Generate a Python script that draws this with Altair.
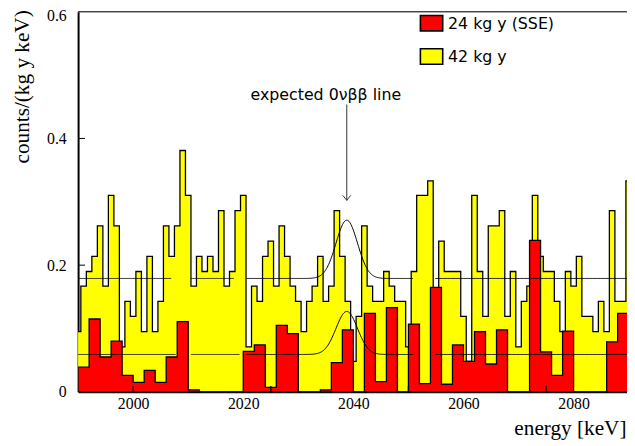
import altair as alt
import pandas as pd
import numpy as np

# ---------------- data ----------------
# 42 kg y spectrum: 1 keV bins centred on integer energies, counts/(kg y keV)
yellow_center = list(range(1990, 2091))
yellow_rate = [
    0.095, 0.167, 0.190, 0.214, 0.262, 0.167, 0.310, 0.262, 0.071, 0.143,  # 1990-1999
    0.119, 0.190, 0.095, 0.214, 0.095, 0.143, 0.262, 0.214, 0.262, 0.381,  # 2000-2009
    0.310, 0.167, 0.214, 0.190, 0.214, 0.190, 0.286, 0.167, 0.190, 0.286,  # 2010-2019
    0.310, 0.071, 0.167, 0.143, 0.214, 0.238, 0.167, 0.262, 0.214, 0.167,  # 2020-2029
    0.143, 0.095, 0.143, 0.167, 0.214, 0.143, 0.167, 0.286, 0.214, 0.143,  # 2030-2039
    0.048, 0.119, 0.262, 0.167, 0.143, 0.143, 0.190, 0.167, 0.143, 0.143,  # 2040-2049
    0.071, 0.190, 0.310, 0.310, 0.333, 0.143, 0.238, 0.190, 0.190, 0.190,  # 2050-2059
    0.119, 0.048, 0.310, 0.190, 0.119, 0.262, 0.262, 0.286, 0.119, 0.190,  # 2060-2069
    0.071, 0.143, 0.167, 0.310, 0.214, 0.190, 0.190, 0.143, 0.095, 0.190,  # 2070-2079
    0.167, 0.214, 0.119, 0.119, 0.095, 0.143, 0.095, 0.286, 0.143, 0.143,  # 2080-2089
    0.333,                                                                 # 2090
]

# 24 kg y (SSE) spectrum: 2 keV bins, lower edges
red_low_edge = list(range(1990, 2090, 2))
red_rate = [
    0.039, 0.115, 0.055, 0.080, 0.026, 0.015, 0.034, 0.015, 0.055, 0.111,  # 1990-2008
    0.003, 0.000, 0.000, 0.000, 0.000, 0.064, 0.074, 0.007, 0.105, 0.092,  # 2010-2028
    0.000, 0.000, 0.003, 0.046, 0.098, 0.000, 0.124, 0.016, 0.133, 0.000,  # 2030-2048
    0.107, 0.013, 0.165, 0.012, 0.074, 0.048, 0.095, 0.044, 0.098, 0.000,  # 2050-2068
    0.000, 0.239, 0.063, 0.026, 0.096, 0.000, 0.000, 0.000, 0.079, 0.124,  # 2070-2088
]

# background levels with the expected line shape (Gaussian) at Q
line_peak = 2038.8
line_sigma = 1.95
upper_base, upper_amp = 0.179, 0.092
lower_base, lower_amp = 0.059, 0.068
upper_segments = [(1990, 2006.9), (2010.5, 2018.3), (2020.6, 2050.8), (2054.9, 2089.7)]
lower_segments = [(1990, 2007.7), (2010.5, 2019.3), (2020.6, 2050.8), (2054.9, 2089.7)]

series_names = ["24 kg y (SSE)", "42 kg y"]
series_colors = ["#ff0000", "#ffff00"]

x_ticks_labels = [2000, 2020, 2040, 2060, 2080]
x_ticks_inner = [2000, 2025, 2050, 2075]
y_ticks = [0, 0.2, 0.4, 0.6]

# legend placement (data units, top right corner)
legend_box_energy = 2054.2
legend_text_energy = 2057.2
legend_box_rate = [0.582, 0.5294]
legend_text_rate = [0.5806, 0.5283]

# ---------------- tables ----------------
ydf = pd.DataFrame({
    "energy": [c - 0.5 for c in yellow_center] + [yellow_center[-1] + 0.5],
    "rate": yellow_rate + [yellow_rate[-1]],
    "series": series_names[1],
})
rdf = pd.DataFrame({
    "energy": red_low_edge + [red_low_edge[-1] + 2],
    "rate": red_rate + [red_rate[-1]],
    "series": series_names[0],
})

rows = []
for name, segs, base, amp in [("u", upper_segments, upper_base, upper_amp),
                              ("l", lower_segments, lower_base, lower_amp)]:
    for i, (a, b) in enumerate(segs):
        xs = np.linspace(a, b, 240)
        ys = base + amp * np.exp(-0.5 * ((xs - line_peak) / line_sigma) ** 2)
        for xv, yv in zip(xs, ys):
            rows.append({"energy": float(xv), "rate": float(yv), "seg": f"{name}{i}"})
gdf = pd.DataFrame(rows)

ldf = pd.DataFrame({
    "series": series_names,
    "energy": [legend_box_energy] * 2,
    "rate": legend_box_rate,
    "tenergy": [legend_text_energy] * 2,
    "trate": legend_text_rate,
})

W, H = 556, 385
x_scale = alt.Scale(domain=[1990, 2089.7], nice=False, zero=False)
y_scale = alt.Scale(domain=[0, 0.6], nice=False)

serif = "Liberation Serif"
sans = "DejaVu Sans"

x_axis = alt.Axis(
    values=x_ticks_labels, format="d", ticks=False, grid=False,
    labelFont=serif, labelFontSize=16, labelColor="black", labelPadding=4,
    domainColor="black", domainWidth=2,
    title="energy [keV]", titleFont=serif, titleFontSize=21.5, titleFontWeight="normal",
    titleColor="black", titleX=W - 1, titleY=43, titleAlign="right", titleBaseline="alphabetic",
    titleAnchor="end",
)
y_axis = alt.Axis(
    values=y_ticks, ticks=False, grid=False,
    labelExpr="datum.value == 0 ? '0' : format(datum.value, '.1f')",
    labelFont=serif, labelFontSize=16, labelColor="black", labelPadding=12,
    labelOffset={"condition": {"test": "datum.value == 0.6", "value": 4}, "value": 0},
    domainColor="black", domainWidth=2,
    title="counts/(kg y keV)", titleFont=serif, titleFontSize=21.5, titleFontWeight="normal",
    titleColor="black", titleAngle=270, titleX=-50, titleY=-2, titleAlign="right",
    titleBaseline="alphabetic",
)
fill_scale = alt.Scale(domain=series_names, range=series_colors)

yellow_area = alt.Chart(ydf).mark_area(
    interpolate="step-after", clip=True, opacity=1, stroke="black", strokeWidth=1.3
).encode(
    x=alt.X("energy:Q", scale=x_scale, axis=x_axis),
    y=alt.Y("rate:Q", scale=y_scale, axis=y_axis),
    fill=alt.Fill("series:N", scale=fill_scale, legend=None),
)
red_area = alt.Chart(rdf).mark_area(
    interpolate="step-after", clip=True, opacity=1, stroke="black", strokeWidth=1.3
).encode(
    x="energy:Q", y="rate:Q",
    fill=alt.Fill("series:N", scale=fill_scale, legend=None),
)

gauss = alt.Chart(gdf).mark_line(clip=True, color="black", strokeWidth=1).encode(
    x="energy:Q", y="rate:Q", detail="seg:N")

top_frame = alt.Chart(pd.DataFrame({"rate": [0.6]})).mark_rule(color="black", strokeWidth=1).encode(
    y="rate:Q")
y_inner_ticks = alt.Chart(pd.DataFrame({"rate": [0.2, 0.4]})).mark_rule(color="black", strokeWidth=1).encode(
    y="rate:Q", x=alt.value(0), x2=alt.value(7))
x_inner_ticks = alt.Chart(pd.DataFrame({"energy": x_ticks_inner})).mark_rule(color="black", strokeWidth=1.3).encode(
    x="energy:Q", y=alt.value(H), y2=alt.value(H - 6))

label_df = pd.DataFrame({"energy": [2035.0], "rate": [0.4605], "text": ["expected 0\u03bd\u03b2\u03b2 line"]})
note = alt.Chart(label_df).mark_text(font=sans, fontSize=16, align="center", baseline="alphabetic",
                                     color="black").encode(x="energy:Q", y="rate:Q", text="text:N")
arrow_df = pd.DataFrame({"energy": [line_peak], "rate": [0.4535], "rate2": [0.3023]})
arrow = alt.Chart(arrow_df).mark_rule(color="#333333", strokeWidth=1).encode(
    x="energy:Q", y="rate:Q", y2="rate2:Q")
arrow_head = alt.Chart(arrow_df).mark_point(shape="M-0.8,-1L0,0L0.8,-1", size=100, filled=False,
                                            color="#333333", strokeWidth=1, opacity=1).encode(
    x="energy:Q", y="rate2:Q")

legend_boxes = alt.Chart(ldf).mark_point(
    shape="M-1,-0.69L1,-0.69L1,0.69L-1,0.69Z", size=511, filled=True, opacity=1,
    stroke="#000000", strokeWidth=1.6, strokeOpacity=1,
).encode(x="energy:Q", y="rate:Q", fill=alt.Fill("series:N", scale=fill_scale, legend=None))
legend_text = alt.Chart(ldf).mark_text(font=sans, fontSize=16, align="left", baseline="middle",
                                       color="black").encode(x="tenergy:Q", y="trate:Q", text="series:N")

chart = alt.layer(
    yellow_area, red_area, x_inner_ticks, y_inner_ticks,
    gauss, top_frame, arrow, arrow_head, note, legend_boxes, legend_text,
).properties(
    width=W, height=H,
    autosize=alt.AutoSizeParams(type="none"),
    padding={"left": 71, "top": 1, "right": 0, "bottom": 50},
).configure_view(stroke=None).configure(background="white")

chart.save("out.html", embed_options={"renderer": "svg", "actions": False})
